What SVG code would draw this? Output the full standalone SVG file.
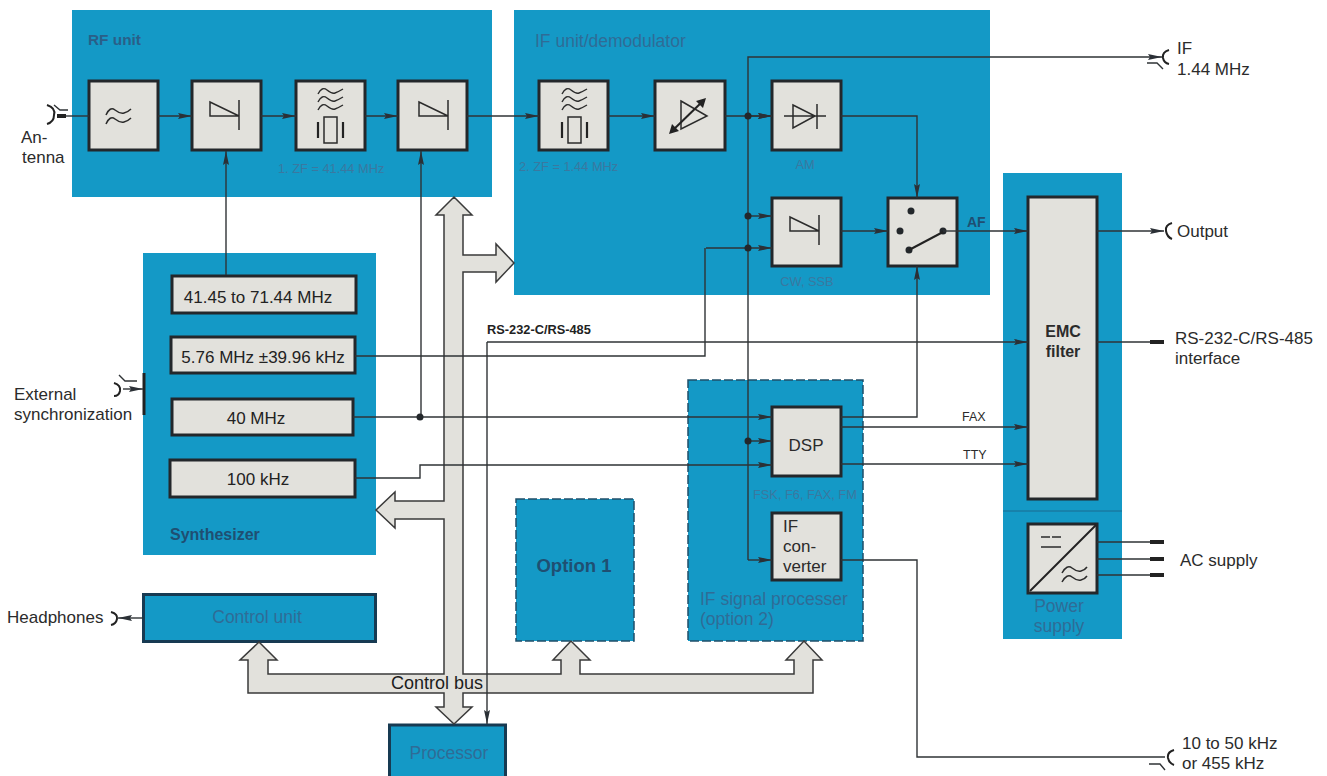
<svg xmlns="http://www.w3.org/2000/svg" width="1327" height="776" viewBox="0 0 1327 776">
<style>
text{font-family:"Liberation Sans",Arial,sans-serif;fill:#2b2b2b;font-size:17px}
.unit{fill:#1499c6}
.dash{fill:#1499c6;stroke:#1f4f6a;stroke-width:1.5;stroke-dasharray:9 3}
.solidb{fill:#1499c6;stroke:#173a52;stroke-width:3}
.blk{fill:#e2e1dc;stroke:#23272b;stroke-width:3}
.sm{font-size:12.8px;fill:#3a78a0}
.ttl{font-size:17.5px;fill:#2f6c96}
.dk{fill:#1f4f72;font-weight:bold}
.lab{font-size:17px;fill:#222}
.c{text-anchor:middle}
.w{fill:none;stroke:#2b2b2b;stroke-width:1.5}
.t{fill:none;stroke:#222;stroke-width:2}
.l{fill:none;stroke:#2f3336;stroke-width:1.4}
.la{fill:none;stroke:#2f3336;stroke-width:1.4;marker-end:url(#arr)}
.d{fill:#23272b}
.bar{fill:#222}
</style>
<defs>
<marker id="arr" markerUnits="userSpaceOnUse" markerWidth="15" markerHeight="9" refX="14" refY="4.500" orient="auto"><path d="M0 1.500L14 4.500L0 7.500L2 4.500z" fill="#2b3036"/></marker>
<path id="wv" d="M0 5Q4-3 9 1T17 4T25 0" fill="none" stroke="#2b2b2b" stroke-width="1.4"/>
<g id="filt">
<use href="#wv" x="-12" y="-27"/><use href="#wv" x="-12" y="-19"/><use href="#wv" x="-12" y="-11"/>
<rect x="-6" y="1" width="13" height="26" fill="none" stroke="#2b2b2b" stroke-width="1.5"/>
<path d="M-12 6V22M13 6V22" fill="none" stroke="#222" stroke-width="2.200"/>
</g>
<g id="amp"><path d="M0 0V14H29L0 0z M29 -2V28" fill="none" stroke="#2b2b2b" stroke-width="1.500"/></g>
</defs>

<g id="rf-unit">
<rect class="unit" x="72" y="10" width="420" height="187"/>
<text x="88" y="45" style="font-size:15.4px;fill:#2a5f88;font-weight:bold">RF unit</text>
<g id="rf-lowpass"><rect class="blk" x="89" y="81" width="69" height="69"/>
<path class="w" d="M106 115Q110 106 115 110T124 113T131 109M106 124Q110 115 115 119T124 122T131 118"/></g>
<g id="rf-mixer1"><rect class="blk" x="192" y="81" width="69" height="69"/><use href="#amp" x="210" y="102"/></g>
<g id="rf-filter"><rect class="blk" x="296" y="81" width="69" height="69"/><use href="#filt" x="330" y="116"/></g>
<g id="rf-mixer2"><rect class="blk" x="398" y="81" width="69" height="69"/><use href="#amp" x="419" y="102"/></g>
<text class="sm" x="278" y="173">1. ZF = 41.44 MHz</text>
</g>

<g id="if-unit">
<rect class="unit" x="514" y="10" width="476" height="285"/>
<text class="ttl" x="535" y="47">IF unit/demodulator</text>
<g id="if-filter"><rect class="blk" x="539" y="81" width="69" height="69"/><use href="#filt" x="574" y="116"/></g>
<g id="if-amp"><rect class="blk" x="655" y="81" width="70" height="69"/>
<path d="M681 101L707 116L681 129z" fill="none" stroke="#2b2b2b" stroke-width="1.500"/>
<path d="M671 132L704 100" stroke="#222" stroke-width="2"/><path d="M669 134L672 124L679 131zM706 98L703 108L696 101z" fill="#222"/></g>
<g id="if-am"><rect class="blk" x="772" y="81" width="69" height="69"/>
<path d="M793 105L815 116L793 128zM784 116H826M817 104V129" fill="none" stroke="#2b2b2b" stroke-width="1.500"/></g>
<g id="if-cw"><rect class="blk" x="772" y="198" width="69" height="68"/><use href="#amp" x="790" y="217"/></g>
<g id="if-switch"><rect class="blk" x="888" y="198" width="69" height="68"/>
<circle class="d" cx="911" cy="211" r="3.500"/><circle class="d" cx="900" cy="231" r="3.500"/><circle class="d" cx="943" cy="231" r="3.500"/><circle class="d" cx="909" cy="250" r="3.500"/>
<path d="M909 250L943 232" stroke="#222" stroke-width="2"/></g>
<text class="sm" x="519" y="171">2. ZF = 1.44 MHz</text>
<text class="sm c" x="805" y="169">AM</text>
<text class="sm c" x="807" y="286">CW, SSB</text>
<text x="967" y="227" style="font-size:14px;font-weight:bold;fill:#1f4f72">AF</text>
</g>

<g id="synthesizer">
<rect class="unit" x="143" y="253" width="233" height="302"/>
<path d="M144 373V415" stroke="#222" stroke-width="3"/>
<g id="syn-lo1"><rect class="blk" x="172" y="276" width="184" height="37"/><text class="lab c" x="258" y="303">41.45 to 71.44 MHz</text></g>
<g id="syn-lo2"><rect class="blk" x="171" y="337" width="184" height="36"/><text class="lab c" x="263" y="363">5.76 MHz ±39.96 kHz</text></g>
<g id="syn-40"><rect class="blk" x="172" y="399" width="181" height="36"/><text class="lab c" x="256" y="424">40 MHz</text></g>
<g id="syn-100"><rect class="blk" x="170" y="460" width="185" height="37"/><text class="lab c" x="258" y="485">100 kHz</text></g>
<text class="dk" x="170" y="540" style="font-size:16px">Synthesizer</text>
</g>

<g id="control-unit"><rect class="solidb" x="143.500" y="594.500" width="232" height="47"/><text class="ttl c" x="257" y="623">Control unit</text></g>
<g id="processor"><rect class="solidb" x="389.500" y="725" width="116" height="60"/><text class="ttl c" x="449" y="759">Processor</text></g>
<g id="option-1"><rect class="dash" x="516" y="499" width="118" height="142"/><text class="dk c" x="574" y="572" style="font-size:18.500px">Option 1</text></g>

<g id="if-signal-processor">
<rect class="dash" x="688" y="380" width="175" height="261"/>
<g id="dsp"><rect class="blk" x="772" y="407" width="69" height="69"/><text class="c" x="806" y="451" style="font-size:17px">DSP</text></g>
<text class="sm" x="753" y="499">FSK, F6, FAX, FM</text>
<g id="if-converter"><rect class="blk" x="772" y="513" width="69" height="67"/>
<text x="783" y="532">IF</text><text x="783" y="552">con-</text><text x="783" y="572">verter</text></g>
<text class="ttl" x="700" y="605">IF signal processer</text>
<text class="ttl" x="700" y="625">(option 2)</text>
</g>

<g id="emc-power">
<rect class="unit" x="1003" y="173" width="119" height="466"/>
<path d="M1003 511H1122" stroke="#1a6a90" stroke-width="1"/>
<g id="emc-filter"><rect class="blk" x="1028" y="197" width="69" height="302"/>
<text class="c" x="1063" y="337" style="font-weight:bold;font-size:16px">EMC</text><text class="c" x="1063" y="357" style="font-weight:bold;font-size:16px">filter</text></g>
<g id="power-supply"><rect class="blk" x="1028" y="524" width="69" height="69"/>
<path d="M1030 591L1096 525" stroke="#222" stroke-width="2"/>
<path d="M1041 537H1050M1052 537H1061M1041 547H1061" fill="none" stroke="#2b2b2b" stroke-width="1.400"/>
<path class="w" d="M1062 573Q1067 564 1072 568T1081 571T1087 567M1062 582Q1067 573 1072 577T1081 580T1087 576"/></g>
<text class="ttl c" x="1059" y="612">Power</text>
<text class="ttl c" x="1059" y="632">supply</text>
</g>

<g id="control-bus">
<path d="M454 197L472 215H463V255H496V244L514 263L496 282V272H463V674H561V660H553L571 641L590 660H580V674H794V660H786L804 641L822 660H813V693H463V707H472L454 724L436 707H444V693H248V660H240L259 642L277 660H268V674H444V519H395V528L376 510L395 492V501H444V215H436z" fill="#e2e1dc" stroke="#3a3a3a" stroke-width="1.500"/>
<text class="c" x="437" y="689" style="font-size:18px;fill:#1c1c1c">Control bus</text>
</g>

<g id="connectors">
<path class="l" d="M60 116H89"/>
<path class="la" d="M158 116H192"/><path class="la" d="M261 116H296"/><path class="la" d="M365 116H398"/>
<path class="la" d="M467 116H539"/><path class="la" d="M608 116H655"/><path class="la" d="M725 116H772"/>
<path class="la" d="M226 275V151"/><path class="la" d="M421 417V151"/>
<path class="la" d="M841 116H917V198"/>
<path class="la" d="M841 231H888"/><path class="la" d="M841 417H917V266"/>
<path class="l" d="M943 231H958"/><path class="la" d="M958 231H1028"/>
<path class="la" d="M1097 231H1164"/>
<path class="la" d="M748 560V57H1162"/>
<path class="la" d="M748 116H772"/><path class="la" d="M748 216H772"/><path class="la" d="M706 248H772"/><path class="la" d="M748 441H772"/><path class="la" d="M748 560H772"/>
<path class="l" d="M355 356H705V248"/>
<path class="la" d="M353 417H772"/>
<path class="la" d="M355 478H420V465H772"/>
<path class="la" d="M841 427H1028"/><path class="la" d="M841 464H1028"/>
<path class="la" d="M487 342V724"/>
<path class="la" d="M487 342H1028"/>
<path class="l" d="M1097 342H1152"/>
<path class="l" d="M841 560H917V757H1165"/>
<path class="l" d="M1097 542H1150M1097 559H1150M1097 575H1150"/>
<path class="la" d="M143 618H118"/>
<path class="la" d="M123 389H143"/>
<g id="junctions" class="d"><circle cx="748" cy="116" r="3.500"/><circle cx="748" cy="216" r="3.500"/><circle cx="748" cy="248" r="3.500"/><circle cx="748" cy="441" r="3.500"/><circle cx="420" cy="417" r="3.500"/></g>
<g id="terminals">
<path class="bar" d="M1150 340H1164V344H1150zM1150 540H1164V544H1150zM1150 557H1164V561H1150zM1150 573H1164V577H1150z"/>
<path class="t" d="M47 105Q56 108 54 115Q54 122 47 124"/><path class="l" d="M54 105L60 110H68"/><path class="bar" d="M57 114H66V118H57z"/>
<path class="t" d="M114 383Q121 385 120 391Q119 396 114 396"/><path class="l" d="M119 375L125 381H137"/>
<path class="t" d="M111 612Q118 614 117 619Q116 624 111 625"/>
<path class="t" d="M1169 50Q1162 52 1163 58Q1164 63 1169 64"/><path class="l" d="M1147 63H1157L1163 69"/>
<path class="t" d="M1172 223Q1165 225 1166 231Q1167 237 1172 239"/>
<path class="t" d="M1174 750Q1167 752 1168 758Q1169 763 1174 765"/><path class="l" d="M1149 764H1160L1165 770"/>
</g>
</g>

<g id="labels">
<text x="21" y="143">An-</text><text x="22" y="163">tenna</text>
<text x="14" y="400">External</text><text x="14" y="420">synchronization</text>
<text x="7" y="623">Headphones</text>
<text x="487" y="334" style="font-size:12.800px;font-weight:bold;fill:#222">RS-232-C/RS-485</text>
<text x="962" y="421" style="font-size:12.500px">FAX</text>
<text x="963" y="459" style="font-size:12.500px">TTY</text>
<text x="1177" y="54">IF</text><text x="1177" y="75">1.44 MHz</text>
<text x="1177" y="237">Output</text>
<text x="1175" y="344">RS-232-C/RS-485</text><text x="1175" y="364">interface</text>
<text x="1180" y="566">AC supply</text>
<text x="1182" y="749">10 to 50 kHz</text><text x="1182" y="769">or 455 kHz</text>
</g>
</svg>
